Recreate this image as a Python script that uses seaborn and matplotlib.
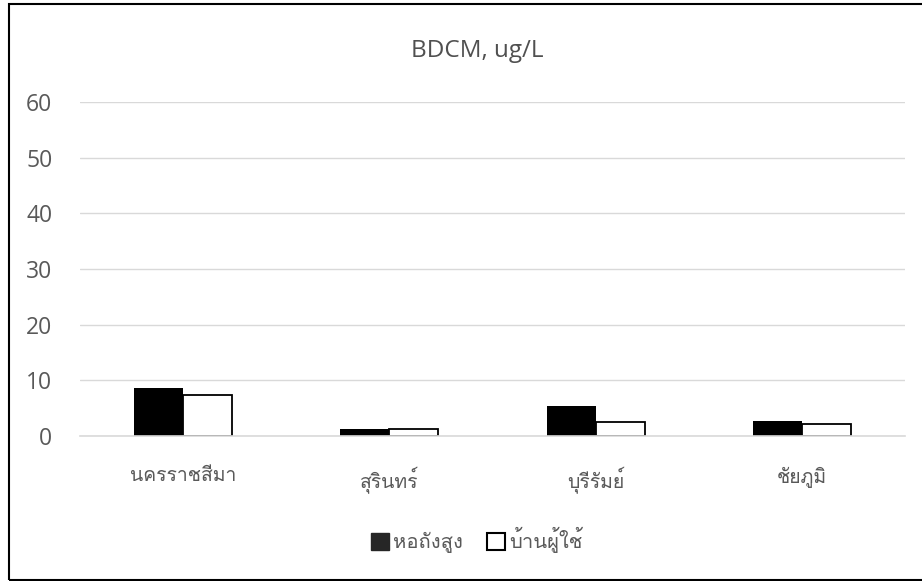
import matplotlib
matplotlib.use("Agg")
import matplotlib.pyplot as plt
import matplotlib.font_manager as fm
from matplotlib.ft2font import FT2Font
from matplotlib.patches import Patch
import pandas as pd
import seaborn as sns

# --- Data ---
provinces = ["นครราชสีมา", "สุรินทร์", "บุรีรัมย์", "ชัยภูมิ"]
series = ["หอถังสูง", "บ้านผู้ใช้"]
tower_vals = [8.6, 1.2, 5.3, 2.75]
house_vals = [7.4, 1.3, 2.6, 2.1]

df = pd.DataFrame({
    "province": provinces * 2,
    "site": [series[0]] * 4 + [series[1]] * 4,
    "value": tower_vals + house_vals,
})


# --- Find a font that has Thai glyphs ---
def find_thai_font():
    for f in fm.fontManager.ttflist:
        try:
            if 0x0E01 in FT2Font(f.fname).get_charmap():
                return f.name
        except Exception:
            continue
    return None


sns.set_theme(style="white")
thai = find_thai_font()
families = ["Open Sans"] + ([thai] if thai else []) + ["DejaVu Sans"]
plt.rcParams["font.family"] = families

gray = "#595959"

fig = plt.figure(figsize=(9.22, 5.81), dpi=100)
ax = fig.add_axes([0.0868, 0.2496, 0.8948, 0.5748])

sns.barplot(data=df, x="province", y="value", hue="site",
            palette=["black", "white"], width=0.475, ax=ax,
            legend=False, saturation=1)

for i, patch in enumerate(ax.patches):
    if i < 4:
        patch.set_edgecolor("none")
    else:
        patch.set_edgecolor("black")
        patch.set_linewidth(1.3)

ax.set_ylim(0, 60)
ax.set_yticks(range(0, 61, 10))
ax.yaxis.grid(True, color="#d9d9d9", linewidth=1)
ax.set_axisbelow(True)
for s in ["top", "right", "left"]:
    ax.spines[s].set_visible(False)
ax.spines["bottom"].set_color("#d9d9d9")
ax.spines["bottom"].set_linewidth(1.2)
ax.set_xlabel("")
ax.set_ylabel("")
ax.tick_params(axis="x", length=0, labelsize=14, labelcolor=gray, pad=22)
ax.tick_params(axis="y", length=0, labelsize=16.5, labelcolor=gray, pad=20)

fig.text(0.518, 0.912, "BDCM, ug/L", ha="center", va="center",
         fontsize=17.5, color="#505050")

handles = [Patch(facecolor="#262626", edgecolor="#262626"),
           Patch(facecolor="white", edgecolor="black", linewidth=1.5)]
fig.legend(handles, series, loc="center", bbox_to_anchor=(0.517, 0.07),
           ncol=2, frameon=False, fontsize=14.5, labelcolor=gray,
           handlelength=0.9, handleheight=0.9, handletextpad=0.2,
           columnspacing=1.2)

# chart border
fig.add_artist(plt.Rectangle((9 / 922, 0.001), 1.2, 1 - 0.001 - 4 / 581,
                             transform=fig.transFigure, fill=False,
                             edgecolor="black", linewidth=1.5))

fig.savefig("out.png", dpi=100)
